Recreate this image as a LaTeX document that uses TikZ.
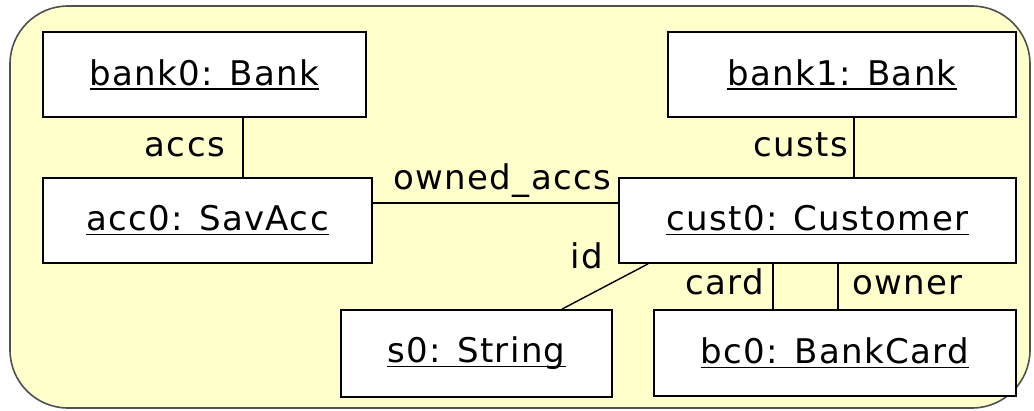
\documentclass[tikz,border=0pt]{standalone}
\usepackage{fontspec}
\setmainfont{DejaVu Sans}[LetterSpace=4]
\definecolor{frameFill}{RGB}{255,255,204}
\definecolor{frameLine}{RGB}{80,80,80}
% object name with a tight underline at the baseline
\newcommand\objname[1]{\setbox0\hbox{#1}\rlap{\rule[-4.5pt]{\wd0}{1.6pt}}\box0}
\tikzset{
  obj/.style={draw=black, fill=white, line width=1.8pt, inner sep=0pt,
              font=\fontsize{34}{41}\selectfont},
  link/.style={draw=black, line width=1.6pt},
  role/.style={inner sep=0pt, font=\fontsize{34}{41}\selectfont}
}
\begin{document}
\begin{tikzpicture}[x=1pt,y=-1pt]
\useasboundingbox (0,0) rectangle (1034,410);
% package frame
\draw[fill=frameFill, draw=frameLine, line width=1.6pt, rounded corners=58pt]
  (10,6) rectangle (1030,408);
% objects
\node[obj, minimum width=323pt, minimum height=85pt] (bank0) at (204.5,74.5) {\objname{bank0: Bank}};
\node[obj, minimum width=329pt, minimum height=85pt] (acc0) at (207.5,220.5) {\objname{acc0: SavAcc}};
\node[obj, minimum width=348pt, minimum height=85pt] (bank1) at (842,74.5) {\objname{bank1: Bank}};
\node[obj, minimum width=397pt, minimum height=85pt] (cust0) at (817.5,220.5) {\objname{cust0: Customer}};
\node[obj, minimum width=271pt, minimum height=87pt] (s0) at (476.5,353.5) {\objname{s0: String}};
\node[obj, minimum width=362pt, minimum height=86pt] (bc0) at (835,353) {\objname{bc0: BankCard}};
% links
\draw[link] ([xshift=38.5pt]bank0.south) -- ([xshift=35.5pt]acc0.north);
\draw[link] ([xshift=12pt]bank1.south) -- ([xshift=36.5pt]cust0.north);
\draw[link] ([yshift=17.5pt]acc0.east) -- ([yshift=17.5pt]cust0.west);
\draw[link, line width=1.4pt] ([xshift=-169.5pt]cust0.south) -- ([xshift=85.5pt]s0.north);
\draw[link] ([xshift=-44.5pt]cust0.south) -- ([xshift=-62pt]bc0.north);
\draw[link] ([xshift=20.5pt]cust0.south) -- ([xshift=3pt]bc0.north);
% role names
\node[role, anchor=base east] (raccs) at (225,156) {accs};
\node[role, anchor=base east] (rcusts) at (848,156) {custs};
\node[role, anchor=base west] (rowned) at (393,189) {owned\_accs};
\node[role, anchor=base east] (rid) at (603,268) {id};
\node[role, anchor=base east] (rcard) at (764,294) {card};
\node[role, anchor=base west] (rowner) at (852,294) {owner};
\end{tikzpicture}
\end{document}
